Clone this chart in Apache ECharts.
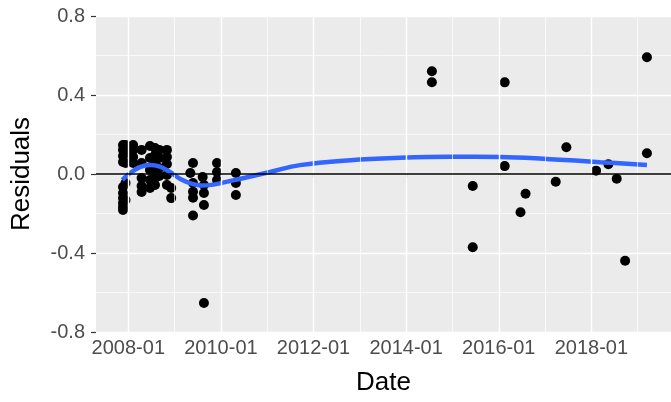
<!DOCTYPE html>
<html>
<head>
<meta charset="utf-8">
<script src="https://cdn.jsdelivr.net/npm/echarts@6/dist/echarts.min.js"></script>
<style>html,body{margin:0;padding:0;background:#fff}#c{width:671px;height:402px}</style>
</head>
<body>
<div id="c"></div>
<script>
// ---- data ----
const pointDates = [
  '2007-11-20','2007-11-20','2007-11-20','2007-11-20','2007-11-20','2007-11-20','2007-11-20','2007-11-20','2007-11-20','2007-11-20',
  '2007-12-10','2007-12-10','2007-12-10','2007-12-10','2007-12-10',
  '2008-02-08','2008-02-08','2008-02-08','2008-02-08',
  '2008-04-15','2008-04-15','2008-04-15','2008-04-15','2008-04-15',
  '2008-06-20','2008-06-20','2008-06-20','2008-06-20','2008-06-20',
  '2008-07-30','2008-07-30','2008-07-30','2008-07-30','2008-07-30','2008-07-30',
  '2008-09-02','2008-09-02','2008-09-02','2008-09-02',
  '2008-11-01','2008-11-01','2008-11-01','2008-11-01','2008-11-01',
  '2008-12-05','2008-12-05',
  '2009-05-05','2009-05-26','2009-05-26','2009-05-26','2009-05-26','2009-05-26',
  '2009-08-10','2009-08-20','2009-08-20','2009-08-20','2009-08-20',
  '2009-12-01','2009-12-01','2009-12-01',
  '2010-04-29','2010-04-29','2010-04-29',
  '2014-07-23','2014-07-23',
  '2015-06-10','2015-06-10',
  '2016-02-17','2016-02-17',
  '2016-06-21','2016-07-31',
  '2017-03-26','2017-06-18',
  '2018-02-07','2018-05-15','2018-07-20','2018-09-24',
  '2019-03-15','2019-03-15'
];
const pointValues = [
  0.147,0.122,0.091,0.061,-0.066,-0.096,-0.122,-0.147,-0.167,-0.182,
  0.147,0.106,0.056,-0.046,-0.132,
  0.147,0.122,0.086,0.056,
  0.122,0.056,-0.020,-0.061,-0.091,
  0.142,0.081,0.020,-0.030,-0.071,
  0.132,0.096,0.056,0.010,-0.020,-0.056,
  0.122,0.081,0.030,-0.010,
  0.122,0.086,0.051,-0.005,-0.056,
  -0.071,-0.122,
  0.005,0.056,-0.046,-0.090,-0.120,-0.210,
  -0.015,-0.056,-0.096,-0.157,-0.653,
  0.056,0.010,-0.030,
  0.005,-0.046,-0.106,
  0.520,0.465,
  -0.061,-0.371,
  0.464,0.040,
  -0.194,-0.100,
  -0.039,0.135,
  0.017,0.049,-0.024,-0.439,
  0.591,0.105
];
const smoothDates = [
  '2007-11-15','2008-01-15','2008-04-01','2008-06-20','2008-09-01','2008-11-25',
  '2009-02-15','2009-05-20','2009-08-01','2009-10-15','2010-01-08','2010-05-28',
  '2011-01-23','2011-09-15','2012-10-18','2013-11-16','2014-12-14','2016-01-12',
  '2017-02-09','2018-03-11','2019-03-15'
];
const smoothValues = [
  -0.030,0.005,0.035,0.045,0.038,0.010,
  -0.025,-0.050,-0.058,-0.055,-0.045,-0.025,
  0.010,0.045,0.070,0.082,0.087,0.086,
  0.075,0.060,0.046
];
const xMajorYears = [2008, 2010, 2012, 2014, 2016, 2018];
const xMinorYears = [2009, 2011, 2013, 2015, 2017, 2019];

// ---- helpers ----
function toYear(s) {
  const [y, m, d] = s.split('-').map(Number);
  const a = Date.UTC(y, 0, 1), b = Date.UTC(y + 1, 0, 1);
  return y + (Date.UTC(y, m - 1, d) - a) / (b - a);
}
const points = pointDates.map((d, i) => [toYear(d), pointValues[i]]);
const smooth = smoothDates.map((d, i) => [toYear(d), smoothValues[i]]);

const FONT = '"Liberation Sans", Arial, sans-serif';
const gridLines = [];
xMajorYears.forEach(v => gridLines.push({ xAxis: v, lineStyle: { color: '#fff', width: 1.4, type: 'solid' } }));
xMinorYears.forEach(v => gridLines.push({ xAxis: v, lineStyle: { color: '#fff', width: 0.7, type: 'solid' } }));

const chart = echarts.init(document.getElementById('c'), null, { renderer: 'canvas' });
chart.setOption({
  animation: false,
  backgroundColor: '#fff',
  grid: { left: 96, right: 0, top: 16, height: 316, show: true, backgroundColor: '#EBEBEB', borderWidth: 0 },
  xAxis: {
    type: 'value', min: 2007.302, max: 2019.72,
    name: 'Date', nameLocation: 'middle', nameGap: 38,
    nameTextStyle: { fontFamily: FONT, fontSize: 26, color: '#000' },
    axisLine: { show: false },
    axisTick: { show: true, customValues: xMajorYears, length: 4, lineStyle: { color: '#333', width: 1.2 } },
    axisLabel: { customValues: xMajorYears, formatter: v => Math.round(v) + '-01', fontFamily: FONT, fontSize: 20, color: '#4D4D4D', margin: 6 },
    splitLine: { show: false }
  },
  yAxis: {
    type: 'value', min: -0.8, max: 0.8, interval: 0.4,
    name: 'Residuals', nameLocation: 'middle', nameGap: 61, nameRotate: 90,
    nameTextStyle: { fontFamily: FONT, fontSize: 26, color: '#000' },
    axisLine: { show: false },
    axisTick: { show: true, length: 5, lineStyle: { color: '#333', width: 1.2 } },
    axisLabel: { formatter: v => v.toFixed(1), fontFamily: FONT, fontSize: 20, color: '#4D4D4D', margin: 11 },
    splitLine: { show: true, lineStyle: { color: '#fff', width: 1.4 } },
    minorTick: { show: false, splitNumber: 2 },
    minorSplitLine: { show: true, lineStyle: { color: '#fff', width: 0.7 } }
  },
  series: [
    {
      type: 'scatter', data: [], z: 1, silent: true,
      markLine: { silent: true, symbol: ['none', 'none'], label: { show: false }, animation: false, data: gridLines }
    },
    {
      type: 'scatter', data: [], z: 2, silent: true,
      markLine: { silent: true, symbol: ['none', 'none'], label: { show: false }, animation: false,
        data: [{ yAxis: 0, lineStyle: { color: '#000', width: 1.5, type: 'solid' } }] }
    },
    {
      type: 'scatter', data: points, z: 3, symbol: 'circle', symbolSize: 10,
      itemStyle: { color: '#000', opacity: 1 }
    },
    {
      type: 'line', data: smooth, z: 4, smooth: 0.4, showSymbol: false,
      lineStyle: { color: '#3366FF', width: 4.5 }
    }
  ]
});
</script>
</body>
</html>
